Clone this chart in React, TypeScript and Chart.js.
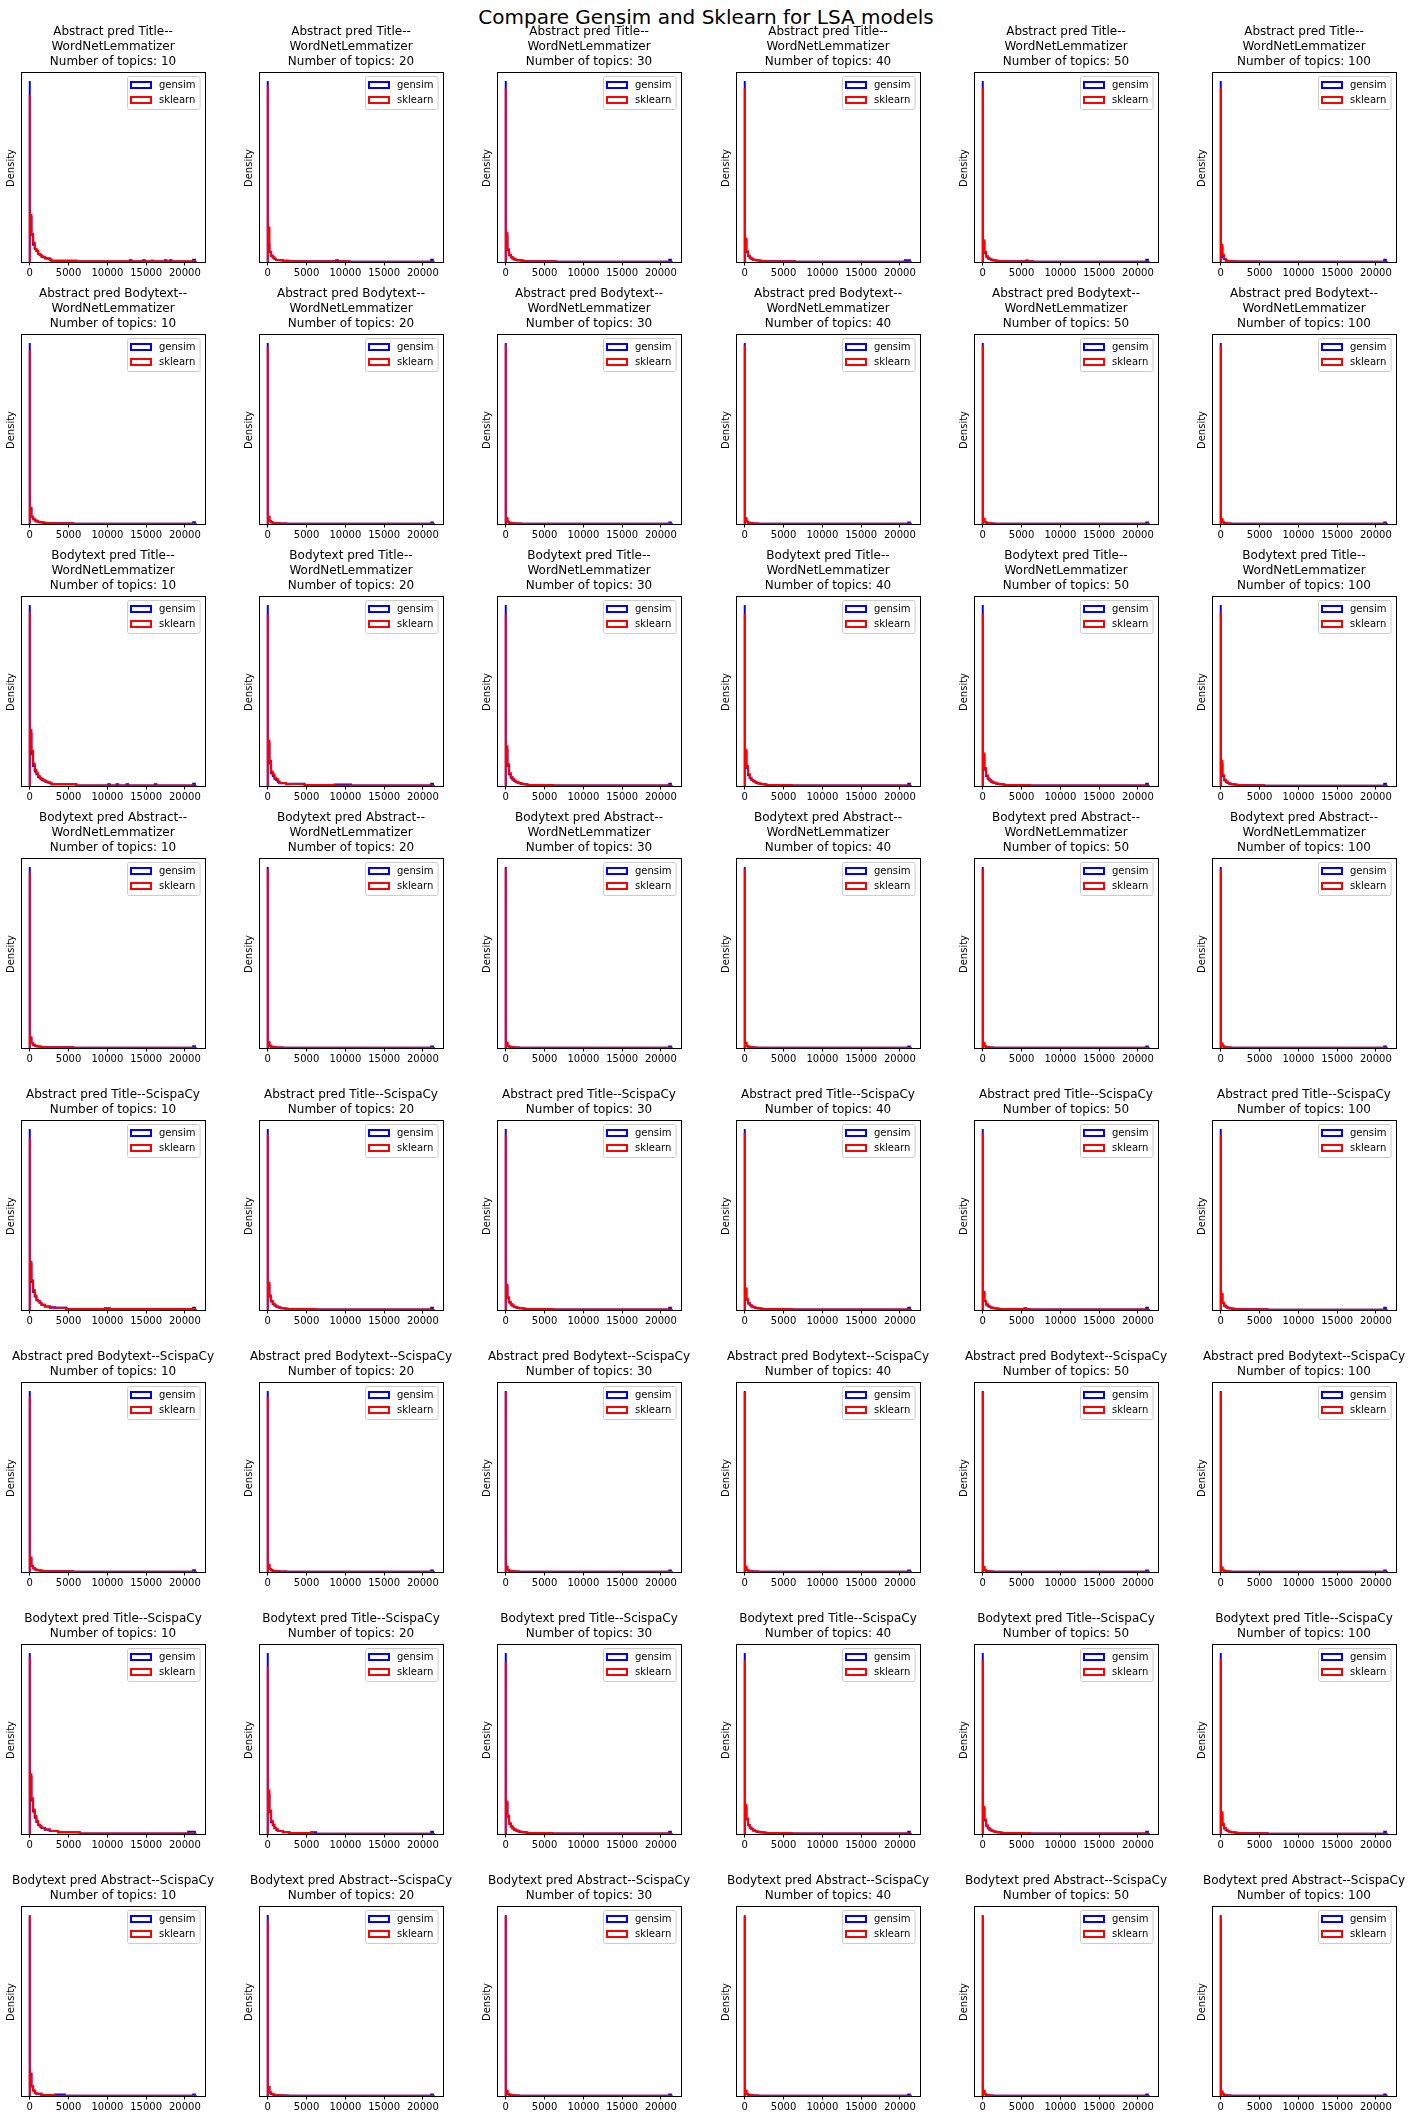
import React, { useEffect, useRef } from 'react';
import { Chart, registerables } from 'chart.js';

Chart.register(...registerables);

// ---------------- data ----------------
const SUPTITLE = 'Compare Gensim and Sklearn for LSA models';
const ROW_TITLES: string[][] = [
  ['Abstract pred Title--', 'WordNetLemmatizer'],
  ['Abstract pred Bodytext--', 'WordNetLemmatizer'],
  ['Bodytext pred Title--', 'WordNetLemmatizer'],
  ['Bodytext pred Abstract--', 'WordNetLemmatizer'],
  ['Abstract pred Title--ScispaCy'],
  ['Abstract pred Bodytext--ScispaCy'],
  ['Bodytext pred Title--ScispaCy'],
  ['Bodytext pred Abstract--ScispaCy'],
];
const TOPICS = [10, 20, 30, 40, 50, 100];
const SERIES_LABELS = ['gensim', 'sklearn'];
const SERIES_COLORS = ['#0000ff', '#ff0000'];
const X_TICKS = [0, 5000, 10000, 15000, 20000];
const BIN_RANGE = [0, 21500];
const BIN_COUNT = 100;
const Y_LABEL = 'Density';

// First 14 bins of every histogram (relative density, % of the panel peak), one entry per topic count.
const GENSIM_HEAD_R1 = [
  [100, 25, 15, 9.5, 7.2, 6, 4.5, 4, 3, 2.8, 2.2, 2, 1.9, 1.4],
  [100, 10, 5.5, 3.5, 2.5, 1.7, 1.1, 1.1, 1, 1, 0.7, 0.7, 0.7, 0.6],
  [100, 14, 6.5, 3.8, 2.6, 1.9, 1.4, 1.1, 1, 0.9, 0.8, 0.7, 0.6, 0.5],
  [100, 12, 5.5, 3.3, 2.3, 1.7, 1.3, 1.1, 0.9, 0.8, 0.7, 0.6, 0.5, 0.5],
  [100, 11, 5, 3, 2, 1.5, 1.2, 1, 0.8, 0.7, 0.6, 0.5, 0.5, 0.4],
  [100, 8, 2.5, 1.5, 0.8, 0.6, 0.5, 0.4, 0.4, 0.3, 0.3, 0.3, 0.3, 0.3],
];
const SKLEARN_HEAD_R1 = [
  [92.5, 26, 15.5, 10.8, 7.3, 6.2, 4.4, 3.9, 2.9, 2.9, 2, 2, 2, 1.3],
  [97.5, 19, 5.7, 3.5, 2.5, 1.7, 1.1, 1.1, 1.1, 1.1, 0.7, 0.7, 0.7, 0.7],
  [96, 16, 7, 4, 2.8, 2, 1.5, 1.2, 1, 0.9, 0.8, 0.7, 0.6, 0.5],
  [96, 13, 6, 3.5, 2.4, 1.8, 1.3, 1.1, 0.9, 0.8, 0.7, 0.6, 0.5, 0.5],
  [96, 12, 5.5, 3.2, 2.2, 1.6, 1.2, 1, 0.8, 0.7, 0.6, 0.5, 0.5, 0.4],
  [96, 9.4, 4, 1.7, 0.8, 0.6, 0.5, 0.4, 0.4, 0.3, 0.3, 0.3, 0.3, 0.3],
];
const GENSIM_HEAD_R2 = [
  [100, 8.5, 3.8, 2.6, 1.9, 1.4, 1.1, 0.9, 0.8, 0.7, 0.6, 0.6, 0.5, 0.5],
  [100, 3.8, 1.5, 0.9, 0.6, 0.5, 0.4, 0.4, 0.3, 0.3, 0.3, 0.3, 0.2, 0.2],
  [100, 3.0, 1.2, 0.7, 0.5, 0.4, 0.3, 0.3, 0.3, 0.3, 0.2, 0.2, 0.2, 0.2],
  [100, 3.0, 1.2, 0.7, 0.5, 0.4, 0.3, 0.3, 0.3, 0.2, 0.2, 0.2, 0.2, 0.2],
  [100, 2.8, 1.1, 0.7, 0.5, 0.4, 0.3, 0.3, 0.2, 0.2, 0.2, 0.2, 0.2, 0.2],
  [100, 2.5, 1.0, 0.6, 0.4, 0.3, 0.3, 0.2, 0.2, 0.2, 0.2, 0.2, 0.2, 0.2],
];
const SKLEARN_HEAD_R2 = [
  [96, 9, 4, 2.8, 2, 1.5, 1.2, 1, 0.9, 0.8, 0.7, 0.6, 0.5, 0.5],
  [98, 4, 1.6, 0.9, 0.6, 0.5, 0.4, 0.4, 0.3, 0.3, 0.3, 0.3, 0.2, 0.2],
  [99, 3.2, 1.3, 0.7, 0.5, 0.4, 0.3, 0.3, 0.3, 0.3, 0.2, 0.2, 0.2, 0.2],
  [99, 3.1, 1.2, 0.7, 0.5, 0.4, 0.3, 0.3, 0.3, 0.2, 0.2, 0.2, 0.2, 0.2],
  [99, 2.9, 1.1, 0.7, 0.5, 0.4, 0.3, 0.3, 0.2, 0.2, 0.2, 0.2, 0.2, 0.2],
  [99, 2.6, 1.0, 0.6, 0.4, 0.3, 0.3, 0.2, 0.2, 0.2, 0.2, 0.2, 0.2, 0.2],
];
const GENSIM_HEAD_R3 = [
  [100, 29, 17.5, 11, 8, 6.5, 5, 4.2, 3.5, 3, 2.5, 2.2, 1.9, 1.7],
  [100, 23.5, 12.5, 7, 5.5, 4, 3.3, 2.2, 1.5, 1.5, 1.5, 1.5, 1, 1],
  [100, 20, 11, 6.5, 4.6, 3.5, 2.7, 2.2, 1.8, 1.5, 1.3, 1.1, 1, 0.9],
  [100, 19, 10, 6, 4.3, 3.3, 2.6, 2.1, 1.7, 1.4, 1.2, 1, 0.9, 0.8],
  [100, 17, 9, 5.5, 4, 3, 2.4, 1.9, 1.6, 1.3, 1.1, 1, 0.9, 0.8],
  [100, 12, 5.5, 3.2, 2.3, 1.7, 1.3, 1, 0.9, 0.8, 0.7, 0.6, 0.5, 0.5],
];
const SKLEARN_HEAD_R3 = [
  [96, 31, 19.5, 12.5, 9, 7, 5.5, 4.5, 3.8, 3.2, 2.8, 2.4, 2, 1.8],
  [95, 25, 14, 8, 6.5, 4.6, 3.8, 2.6, 1.7, 1.7, 1.7, 1.7, 1.1, 1.1],
  [95, 22, 12, 7, 5, 3.8, 3, 2.4, 2, 1.7, 1.4, 1.2, 1, 0.9],
  [95, 20, 11, 6.5, 4.5, 3.5, 2.8, 2.2, 1.8, 1.5, 1.3, 1.1, 1, 0.9],
  [95, 18, 10, 6, 4.2, 3.2, 2.5, 2, 1.7, 1.4, 1.2, 1, 0.9, 0.8],
  [96, 14, 6, 3.5, 2.5, 1.8, 1.4, 1.1, 0.9, 0.8, 0.7, 0.6, 0.5, 0.5],
];
const GENSIM_HEAD_R4 = [
  [100, 5.5, 2.6, 1.7, 1.2, 1, 0.8, 0.7, 0.6, 0.5, 0.5, 0.4, 0.4, 0.4],
  [100, 3.0, 1.2, 0.7, 0.5, 0.4, 0.3, 0.3, 0.3, 0.3, 0.2, 0.2, 0.2, 0.2],
  [100, 2.8, 1.1, 0.7, 0.5, 0.4, 0.3, 0.3, 0.3, 0.2, 0.2, 0.2, 0.2, 0.2],
  [100, 2.8, 1.1, 0.7, 0.5, 0.4, 0.3, 0.3, 0.2, 0.2, 0.2, 0.2, 0.2, 0.2],
  [100, 2.6, 1.0, 0.6, 0.4, 0.3, 0.3, 0.2, 0.2, 0.2, 0.2, 0.2, 0.2, 0.2],
  [100, 2.4, 1.0, 0.6, 0.4, 0.3, 0.3, 0.2, 0.2, 0.2, 0.2, 0.2, 0.2, 0.2],
];
const SKLEARN_HEAD_R4 = [
  [97, 6, 2.8, 1.8, 1.3, 1, 0.8, 0.7, 0.6, 0.5, 0.5, 0.4, 0.4, 0.4],
  [99, 3.2, 1.3, 0.7, 0.5, 0.4, 0.3, 0.3, 0.3, 0.3, 0.2, 0.2, 0.2, 0.2],
  [99, 3.0, 1.2, 0.7, 0.5, 0.4, 0.3, 0.3, 0.3, 0.2, 0.2, 0.2, 0.2, 0.2],
  [99, 2.9, 1.1, 0.7, 0.5, 0.4, 0.3, 0.3, 0.2, 0.2, 0.2, 0.2, 0.2, 0.2],
  [99, 2.7, 1.0, 0.6, 0.4, 0.3, 0.3, 0.2, 0.2, 0.2, 0.2, 0.2, 0.2, 0.2],
  [99, 2.5, 1.0, 0.6, 0.4, 0.3, 0.3, 0.2, 0.2, 0.2, 0.2, 0.2, 0.2, 0.2],
];
const GENSIM_HEAD_R5 = [
  [100, 25.5, 15.5, 10, 7.5, 5.5, 4.8, 3.8, 2.9, 2.9, 2, 2, 2, 1.3],
  [100, 14, 7.5, 4.7, 3.3, 2.5, 1.9, 1.5, 1.2, 1, 0.9, 0.8, 0.7, 0.6],
  [100, 13, 6.6, 4.2, 3, 2.3, 1.7, 1.4, 1.1, 1, 0.9, 0.8, 0.7, 0.6],
  [100, 11.5, 5.7, 3.6, 2.6, 1.9, 1.5, 1.2, 1, 0.9, 0.8, 0.7, 0.6, 0.5],
  [100, 9.5, 4.8, 3, 2.2, 1.6, 1.3, 1, 0.9, 0.8, 0.7, 0.6, 0.5, 0.5],
  [100, 8.5, 3.8, 2.4, 1.7, 1.2, 1, 0.8, 0.7, 0.6, 0.5, 0.5, 0.4, 0.4],
];
const SKLEARN_HEAD_R5 = [
  [95, 26.5, 16.4, 11, 8, 5.7, 5, 3.9, 2.9, 2.9, 2, 2, 2, 1.3],
  [97, 15, 8, 5, 3.5, 2.6, 2, 1.6, 1.3, 1.1, 0.9, 0.8, 0.7, 0.6],
  [97, 14, 7, 4.5, 3.2, 2.4, 1.8, 1.5, 1.2, 1, 0.9, 0.8, 0.7, 0.6],
  [98, 12, 6, 3.8, 2.7, 2, 1.6, 1.3, 1.1, 0.9, 0.8, 0.7, 0.6, 0.5],
  [98, 10, 5, 3.2, 2.3, 1.7, 1.4, 1.1, 0.9, 0.8, 0.7, 0.6, 0.5, 0.5],
  [97, 9, 4, 2.5, 1.8, 1.3, 1, 0.8, 0.7, 0.6, 0.5, 0.5, 0.4, 0.4],
];
const GENSIM_HEAD_R6 = [
  [100, 7.5, 3.3, 2.1, 1.4, 1.1, 0.9, 0.8, 0.7, 0.6, 0.5, 0.5, 0.4, 0.4],
  [100, 3.7, 1.5, 0.9, 0.6, 0.5, 0.4, 0.4, 0.3, 0.3, 0.3, 0.3, 0.2, 0.2],
  [100, 2.8, 1.1, 0.7, 0.5, 0.4, 0.3, 0.3, 0.3, 0.2, 0.2, 0.2, 0.2, 0.2],
  [100, 2.8, 1.1, 0.7, 0.5, 0.4, 0.3, 0.3, 0.3, 0.2, 0.2, 0.2, 0.2, 0.2],
  [100, 2.6, 1.0, 0.6, 0.4, 0.3, 0.3, 0.2, 0.2, 0.2, 0.2, 0.2, 0.2, 0.2],
  [100, 2.4, 1.0, 0.6, 0.4, 0.3, 0.3, 0.2, 0.2, 0.2, 0.2, 0.2, 0.2, 0.2],
];
const SKLEARN_HEAD_R6 = [
  [97, 8, 3.5, 2.2, 1.5, 1.1, 0.9, 0.8, 0.7, 0.6, 0.5, 0.5, 0.4, 0.4],
  [97, 4, 1.6, 1, 0.7, 0.5, 0.4, 0.4, 0.3, 0.3, 0.3, 0.3, 0.2, 0.2],
  [99.5, 3, 1.2, 0.7, 0.5, 0.4, 0.3, 0.3, 0.3, 0.2, 0.2, 0.2, 0.2, 0.2],
  [99.5, 3, 1.2, 0.7, 0.5, 0.4, 0.3, 0.3, 0.3, 0.2, 0.2, 0.2, 0.2, 0.2],
  [99.5, 2.7, 1.1, 0.6, 0.4, 0.3, 0.3, 0.2, 0.2, 0.2, 0.2, 0.2, 0.2, 0.2],
  [99.5, 2.5, 1.0, 0.6, 0.4, 0.3, 0.3, 0.2, 0.2, 0.2, 0.2, 0.2, 0.2, 0.2],
];
const GENSIM_HEAD_R7 = [
  [100, 31.5, 18.5, 12.5, 9, 6.6, 5, 4.2, 3.3, 3.3, 2.4, 2.4, 2.4, 1.6],
  [100, 22, 12, 6.5, 4.8, 3.2, 2.4, 1.6, 1.6, 1.6, 1, 1, 1, 1],
  [100, 17, 9.5, 5.7, 4.1, 3, 2.4, 1.9, 1.5, 1.3, 1.1, 1, 0.9, 0.8],
  [100, 15, 8, 4.8, 3.4, 2.6, 2, 1.6, 1.3, 1.1, 1, 0.9, 0.8, 0.7],
  [100, 14, 7.5, 4.5, 3.2, 2.4, 1.9, 1.5, 1.2, 1, 0.9, 0.8, 0.7, 0.6],
  [100, 11, 5, 3.1, 2.2, 1.6, 1.2, 1, 0.9, 0.8, 0.7, 0.6, 0.5, 0.5],
];
const SKLEARN_HEAD_R7 = [
  [98, 33, 19.7, 13.6, 10, 7.2, 5.3, 4.4, 3.5, 3.5, 2.6, 2.6, 2.6, 1.7],
  [92.5, 24, 13, 7.2, 5.3, 3.5, 2.6, 1.7, 1.7, 1.7, 1.1, 1.1, 1.1, 1.1],
  [95, 18, 10, 6, 4.3, 3.2, 2.5, 2, 1.6, 1.4, 1.2, 1, 0.9, 0.8],
  [96, 16, 8.5, 5, 3.6, 2.7, 2.1, 1.7, 1.4, 1.2, 1, 0.9, 0.8, 0.7],
  [96, 15, 8, 4.7, 3.4, 2.5, 2, 1.6, 1.3, 1.1, 0.9, 0.8, 0.7, 0.6],
  [97, 12, 5.5, 3.3, 2.3, 1.7, 1.3, 1.1, 0.9, 0.8, 0.7, 0.6, 0.5, 0.5],
];
const GENSIM_HEAD_R8 = [
  [99.5, 12, 5.3, 3, 1.7, 1.3, 1.3, 1.3, 0.6, 0.6, 0.6, 0.6, 0.6, 0.6],
  [100, 4.8, 1.9, 1.1, 0.8, 0.6, 0.5, 0.4, 0.4, 0.3, 0.3, 0.3, 0.3, 0.2],
  [99.5, 2.8, 1.1, 0.7, 0.5, 0.4, 0.3, 0.3, 0.3, 0.2, 0.2, 0.2, 0.2, 0.2],
  [99.5, 2.8, 1.1, 0.7, 0.5, 0.4, 0.3, 0.3, 0.3, 0.2, 0.2, 0.2, 0.2, 0.2],
  [99.5, 2.6, 1.0, 0.6, 0.4, 0.3, 0.3, 0.2, 0.2, 0.2, 0.2, 0.2, 0.2, 0.2],
  [99.5, 2.4, 1.0, 0.6, 0.4, 0.3, 0.3, 0.2, 0.2, 0.2, 0.2, 0.2, 0.2, 0.2],
];
const SKLEARN_HEAD_R8 = [
  [100, 12.5, 5.5, 3.1, 1.8, 1.3, 1.3, 1.3, 0.6, 0.6, 0.6, 0.6, 0.6, 0.6],
  [97, 5, 2, 1.2, 0.8, 0.6, 0.5, 0.4, 0.4, 0.3, 0.3, 0.3, 0.3, 0.2],
  [100, 3, 1.2, 0.7, 0.5, 0.4, 0.3, 0.3, 0.3, 0.2, 0.2, 0.2, 0.2, 0.2],
  [100, 3, 1.2, 0.7, 0.5, 0.4, 0.3, 0.3, 0.3, 0.2, 0.2, 0.2, 0.2, 0.2],
  [100, 2.7, 1.1, 0.6, 0.4, 0.3, 0.3, 0.2, 0.2, 0.2, 0.2, 0.2, 0.2, 0.2],
  [100, 2.5, 1.0, 0.6, 0.4, 0.3, 0.3, 0.2, 0.2, 0.2, 0.2, 0.2, 0.2, 0.2],
];

// Remaining bins (index 14..99): runs of [fromBin, toBin, value]; later runs override earlier ones.
const GENSIM_TAIL_R1 = [
  [[14, 28, 0.7], [29, 98, 0.3], [61, 61, 0.9], [69, 69, 0.9], [82, 82, 0.9], [85, 85, 0.9], [99, 99, 1.2]],
  [[14, 49, 0.35], [50, 98, 0.15], [42, 42, 0.9], [99, 99, 1.2]],
  [[14, 30, 0.4], [31, 98, 0.2], [99, 99, 1.2]],
  [[14, 30, 0.4], [31, 96, 0.2], [97, 99, 1.0]],
  [[14, 30, 0.4], [31, 98, 0.2], [27, 27, 0.8], [99, 99, 1.2]],
  [[14, 23, 0.3], [24, 98, 0.15], [99, 99, 1.2]],
];
const SKLEARN_TAIL_R1 = [
  [[14, 28, 0.7], [29, 99, 0.35], [74, 74, 0.8]],
  [[14, 49, 0.35], [50, 99, 0.15]],
  [[14, 30, 0.4], [31, 99, 0.2]],
  [[14, 30, 0.4], [31, 99, 0.2]],
  [[14, 30, 0.4], [31, 99, 0.2]],
  [[14, 23, 0.3], [24, 99, 0.15]],
];
const GENSIM_TAIL_R2 = [
  [[14, 26, 0.4], [27, 98, 0.2], [99, 99, 1.0]],
  [[14, 30, 0.2], [31, 98, 0.15], [99, 99, 0.8]],
  [[14, 30, 0.2], [31, 98, 0.15], [99, 99, 0.8]],
  [[14, 30, 0.2], [31, 98, 0.15], [99, 99, 0.8]],
  [[14, 30, 0.2], [31, 98, 0.15], [99, 99, 0.8]],
  [[14, 30, 0.2], [31, 98, 0.15], [99, 99, 0.8]],
];
const SKLEARN_TAIL_R2 = [
  [[14, 26, 0.4], [27, 99, 0.2]],
  [[14, 30, 0.2], [31, 99, 0.15]],
  [[14, 30, 0.2], [31, 99, 0.15]],
  [[14, 30, 0.2], [31, 99, 0.15]],
  [[14, 30, 0.2], [31, 99, 0.15]],
  [[14, 30, 0.2], [31, 99, 0.15]],
];
const GENSIM_TAIL_R3 = [
  [[14, 28, 1.0], [29, 98, 0.3], [48, 48, 1.0], [53, 53, 1.0], [59, 59, 1.0], [76, 76, 1.0], [99, 99, 1.2]],
  [[14, 22, 1.2], [23, 40, 0.6], [41, 50, 0.8], [51, 98, 0.3], [99, 99, 1.2]],
  [[14, 28, 0.6], [29, 98, 0.25], [99, 99, 1.2]],
  [[14, 28, 0.6], [29, 98, 0.25], [99, 99, 1.2]],
  [[14, 28, 0.5], [29, 98, 0.25], [99, 99, 1.2]],
  [[14, 26, 0.4], [27, 98, 0.2], [99, 99, 1.2]],
];
const SKLEARN_TAIL_R3 = [
  [[14, 28, 1.0], [29, 99, 0.3]],
  [[14, 22, 1.1], [23, 40, 0.6], [41, 99, 0.3]],
  [[14, 28, 0.6], [29, 99, 0.25]],
  [[14, 28, 0.6], [29, 99, 0.25]],
  [[14, 28, 0.5], [29, 99, 0.25]],
  [[14, 26, 0.4], [27, 99, 0.2]],
];
const GENSIM_TAIL_R4 = [
  [[14, 26, 0.4], [27, 98, 0.2], [99, 99, 1.0]],
  [[14, 30, 0.2], [31, 98, 0.15], [99, 99, 0.8]],
  [[14, 30, 0.2], [31, 98, 0.15], [99, 99, 0.8]],
  [[14, 30, 0.2], [31, 98, 0.15], [99, 99, 0.8]],
  [[14, 30, 0.2], [31, 98, 0.15], [99, 99, 0.8]],
  [[14, 30, 0.2], [31, 98, 0.15], [99, 99, 0.8]],
];
const SKLEARN_TAIL_R4 = [
  [[14, 26, 0.4], [27, 99, 0.2]],
  [[14, 30, 0.2], [31, 99, 0.15]],
  [[14, 30, 0.2], [31, 99, 0.15]],
  [[14, 30, 0.2], [31, 99, 0.15]],
  [[14, 30, 0.2], [31, 99, 0.15]],
  [[14, 30, 0.2], [31, 99, 0.15]],
];
const GENSIM_TAIL_R5 = [
  [[14, 15, 1.5], [16, 22, 1.3], [23, 45, 0.5], [46, 48, 0.9], [49, 98, 0.4], [99, 99, 1.2]],
  [[14, 28, 0.5], [29, 98, 0.25], [99, 99, 1.2]],
  [[14, 28, 0.5], [29, 98, 0.25], [99, 99, 1.2]],
  [[14, 28, 0.5], [29, 98, 0.25], [99, 99, 1.2]],
  [[14, 28, 0.5], [29, 98, 0.25], [26, 26, 0.9], [99, 99, 1.2]],
  [[14, 28, 0.4], [29, 98, 0.2], [99, 99, 1.2]],
];
const SKLEARN_TAIL_R5 = [
  [[14, 22, 1.3], [23, 99, 0.5]],
  [[14, 28, 0.5], [29, 99, 0.25]],
  [[14, 28, 0.5], [29, 99, 0.25]],
  [[14, 28, 0.5], [29, 99, 0.25]],
  [[14, 28, 0.5], [29, 99, 0.25]],
  [[14, 28, 0.4], [29, 99, 0.2]],
];
const GENSIM_TAIL_R6 = [
  [[14, 26, 0.4], [27, 98, 0.2], [99, 99, 1.0]],
  [[14, 30, 0.2], [31, 98, 0.15], [99, 99, 0.8]],
  [[14, 30, 0.2], [31, 98, 0.15], [99, 99, 0.8]],
  [[14, 30, 0.2], [31, 98, 0.15], [99, 99, 0.8]],
  [[14, 30, 0.2], [31, 98, 0.15], [99, 99, 0.8]],
  [[14, 30, 0.2], [31, 98, 0.15], [99, 99, 0.8]],
];
const SKLEARN_TAIL_R6 = [
  [[14, 26, 0.4], [27, 99, 0.2]],
  [[14, 30, 0.2], [31, 99, 0.15]],
  [[14, 30, 0.2], [31, 99, 0.15]],
  [[14, 30, 0.2], [31, 99, 0.15]],
  [[14, 30, 0.2], [31, 99, 0.15]],
  [[14, 30, 0.2], [31, 99, 0.15]],
];
const GENSIM_TAIL_R7 = [
  [[14, 17, 1.6], [18, 30, 0.9], [31, 95, 0.3], [96, 99, 1.2]],
  [[14, 26, 0.6], [27, 29, 1.0], [30, 98, 0.2], [99, 99, 1.2]],
  [[14, 28, 0.5], [29, 98, 0.25], [99, 99, 1.2]],
  [[14, 28, 0.5], [29, 98, 0.25], [99, 99, 1.2]],
  [[14, 28, 0.5], [29, 98, 0.25], [99, 99, 1.2]],
  [[14, 28, 0.4], [29, 98, 0.2], [99, 99, 1.2]],
];
const SKLEARN_TAIL_R7 = [
  [[14, 17, 1.7], [18, 30, 0.9], [31, 99, 0.3]],
  [[14, 27, 0.6], [28, 99, 0.2]],
  [[14, 28, 0.5], [29, 99, 0.25]],
  [[14, 28, 0.5], [29, 99, 0.25]],
  [[14, 28, 0.5], [29, 99, 0.25]],
  [[14, 28, 0.4], [29, 99, 0.2]],
];
const GENSIM_TAIL_R8 = [
  [[14, 15, 0.55], [16, 21, 0.8], [22, 98, 0.2], [99, 99, 0.8]],
  [[14, 30, 0.2], [31, 98, 0.15], [99, 99, 0.8]],
  [[14, 30, 0.2], [31, 98, 0.15], [99, 99, 0.8]],
  [[14, 30, 0.2], [31, 98, 0.15], [99, 99, 0.8]],
  [[14, 30, 0.2], [31, 98, 0.15], [99, 99, 0.8]],
  [[14, 30, 0.2], [31, 98, 0.15], [99, 99, 0.8]],
];
const SKLEARN_TAIL_R8 = [
  [[14, 15, 0.55], [16, 99, 0.2]],
  [[14, 30, 0.2], [31, 99, 0.15]],
  [[14, 30, 0.2], [31, 99, 0.15]],
  [[14, 30, 0.2], [31, 99, 0.15]],
  [[14, 30, 0.2], [31, 99, 0.15]],
  [[14, 30, 0.2], [31, 99, 0.15]],
];

const GENSIM_HEADS = [GENSIM_HEAD_R1, GENSIM_HEAD_R2, GENSIM_HEAD_R3, GENSIM_HEAD_R4, GENSIM_HEAD_R5, GENSIM_HEAD_R6, GENSIM_HEAD_R7, GENSIM_HEAD_R8];
const SKLEARN_HEADS = [SKLEARN_HEAD_R1, SKLEARN_HEAD_R2, SKLEARN_HEAD_R3, SKLEARN_HEAD_R4, SKLEARN_HEAD_R5, SKLEARN_HEAD_R6, SKLEARN_HEAD_R7, SKLEARN_HEAD_R8];
const GENSIM_TAILS = [GENSIM_TAIL_R1, GENSIM_TAIL_R2, GENSIM_TAIL_R3, GENSIM_TAIL_R4, GENSIM_TAIL_R5, GENSIM_TAIL_R6, GENSIM_TAIL_R7, GENSIM_TAIL_R8];
const SKLEARN_TAILS = [SKLEARN_TAIL_R1, SKLEARN_TAIL_R2, SKLEARN_TAIL_R3, SKLEARN_TAIL_R4, SKLEARN_TAIL_R5, SKLEARN_TAIL_R6, SKLEARN_TAIL_R7, SKLEARN_TAIL_R8];

// ---------------- layout / style ----------------
const PAGE_W = 1412;
const PAGE_H = 2120;
const COL_STEP = 238.2;
const ROW_STEP = 262;
const CANVAS_W = 238;
const CANVAS_H = 300;
const PLOT_LEFT = 21;
const PLOT_TOP = 72;
const PLOT_W = 184;
const PLOT_H = 190;
const X_AXIS_H = 30;
const X_MIN = -1130;
const X_MAX = 22590;
const FONT = '"DejaVu Sans", "Liberation Sans", sans-serif';

function expandBins(head: number[], tail: number[][]): number[] {
  const out: number[] = new Array(BIN_COUNT).fill(0);
  head.forEach((v, i) => { out[i] = v; });
  tail.forEach(([a, b, v]) => { for (let i = a; i <= b; i++) out[i] = v; });
  return out;
}

function stepPoints(values: number[]) {
  const w = (BIN_RANGE[1] - BIN_RANGE[0]) / BIN_COUNT;
  const pts = [{ x: BIN_RANGE[0], y: 0 }];
  values.forEach((v, i) => pts.push({ x: BIN_RANGE[0] + i * w, y: v }));
  pts.push({ x: BIN_RANGE[1], y: 0 });
  return pts;
}

function makeDecor(row: number, col: number) {
  return {
    id: 'panelDecor' + row + '_' + col,
    afterDraw(chart: any) {
      const { ctx, chartArea } = chart;
      const { left, right, top, bottom } = chartArea;
      ctx.save();
      // frame
      ctx.strokeStyle = '#000';
      ctx.lineWidth = 1;
      ctx.strokeRect(left + 0.5, top + 0.5, right - left, bottom - top);
      // title
      const lines = [...ROW_TITLES[row], 'Number of topics: ' + TOPICS[col]];
      ctx.fillStyle = '#000';
      ctx.font = '12px ' + FONT;
      ctx.textAlign = 'center';
      ctx.textBaseline = 'alphabetic';
      const cx = (left + right) / 2;
      lines.forEach((ln, i) => {
        ctx.fillText(ln, cx, top - 6.6 - 15 * (lines.length - 1 - i));
      });
      // y label
      ctx.save();
      ctx.translate(left - 9.7, (top + bottom) / 2 + 1);
      ctx.rotate(-Math.PI / 2);
      ctx.font = '10px ' + FONT;
      ctx.textAlign = 'center';
      ctx.textBaseline = 'middle';
      ctx.fillText(Y_LABEL, 0, 0);
      ctx.restore();
      // legend
      ctx.font = '10px ' + FONT;
      const tw = Math.max(...SERIES_LABELS.map((s) => ctx.measureText(s).width));
      const fw = 4 + 20 + 8 + tw + 4;
      const fx = Math.round(right - 5 - fw) + 0.5;
      const fy = top + 4.5;
      ctx.beginPath();
      if (ctx.roundRect) ctx.roundRect(fx, fy, fw, 33, 2); else ctx.rect(fx, fy, fw, 33);
      ctx.fillStyle = 'rgba(255,255,255,0.8)';
      ctx.fill();
      ctx.strokeStyle = '#cccccc';
      ctx.lineWidth = 1;
      ctx.stroke();
      SERIES_LABELS.forEach((lab, i) => {
        const cy = fy + 8.8 + i * 14.7;
        ctx.strokeStyle = SERIES_COLORS[i];
        ctx.lineWidth = 2;
        ctx.strokeRect(Math.round(fx + 3.5), Math.round(cy) - 3, 20, 6);
        ctx.fillStyle = '#000';
        ctx.textAlign = 'left';
        ctx.textBaseline = 'middle';
        ctx.fillText(lab, fx + 31.5, cy);
      });
      ctx.restore();
    },
  };
}

function Panel({ row, col }: { row: number; col: number }) {
  const ref = useRef<HTMLCanvasElement>(null);
  useEffect(() => {
    const canvas = ref.current;
    if (!canvas) return;
    const g = expandBins(GENSIM_HEADS[row][col], GENSIM_TAILS[row][col]);
    const s = expandBins(SKLEARN_HEADS[row][col], SKLEARN_TAILS[row][col]);
    const peak = Math.max(...g, ...s);
    const chart = new Chart(canvas, {
      type: 'line',
      data: {
        datasets: [
          {
            label: SERIES_LABELS[0], data: stepPoints(g), borderColor: SERIES_COLORS[0], backgroundColor: SERIES_COLORS[0],
            borderWidth: 2, pointRadius: 0, stepped: 'after', fill: false, order: 1,
            borderJoinStyle: 'miter', borderCapStyle: 'butt',
          },
          {
            label: SERIES_LABELS[1], data: stepPoints(s), borderColor: SERIES_COLORS[1], backgroundColor: SERIES_COLORS[1],
            borderWidth: 2, pointRadius: 0, stepped: 'after', fill: false, order: 0,
            borderJoinStyle: 'miter', borderCapStyle: 'butt',
          },
        ],
      },
      options: {
        animation: false,
        responsive: false,
        maintainAspectRatio: false,
        devicePixelRatio: 1,
        events: [],
        layout: {
          padding: {
            left: PLOT_LEFT,
            top: PLOT_TOP,
            right: CANVAS_W - PLOT_LEFT - PLOT_W,
            bottom: CANVAS_H - PLOT_TOP - PLOT_H - X_AXIS_H,
          },
        },
        plugins: { legend: { display: false }, title: { display: false }, tooltip: { enabled: false } },
        scales: {
          x: {
            type: 'linear',
            position: 'bottom',
            min: X_MIN,
            max: X_MAX,
            afterBuildTicks: (axis: any) => { axis.ticks = X_TICKS.map((v) => ({ value: v })); },
            afterFit: (axis: any) => { axis.height = X_AXIS_H; },
            ticks: {
              autoSkip: false, maxRotation: 0, minRotation: 0, padding: 2, color: '#000',
              font: { size: 10, family: FONT },
              callback: (v: any) => String(v),
            },
            grid: { display: true, drawOnChartArea: false, drawTicks: true, tickLength: 3.5, color: '#000', lineWidth: 1 },
            border: { display: false },
          },
          y: { display: false, min: 0, max: peak * 1.05 },
        },
      } as any,
      plugins: [makeDecor(row, col)],
    });
    return () => chart.destroy();
  }, [row, col]);
  return (
    <canvas
      ref={ref}
      width={CANVAS_W}
      height={CANVAS_H}
      style={{ position: 'absolute', left: Math.round(col * COL_STEP), top: row * ROW_STEP, width: CANVAS_W, height: CANVAS_H }}
    />
  );
}

export default function App() {
  const cells: React.ReactNode[] = [];
  ROW_TITLES.forEach((_, r) => TOPICS.forEach((__, c) => cells.push(<Panel key={r + '_' + c} row={r} col={c} />)));
  return (
    <div style={{ position: 'absolute', left: 0, top: 0, width: PAGE_W, height: PAGE_H, overflow: 'hidden', background: '#fff' }}>
      <div
        style={{
          position: 'absolute', left: 0, top: 5, width: PAGE_W, textAlign: 'center',
          fontFamily: FONT, fontSize: 20, lineHeight: '24px', color: '#000', whiteSpace: 'nowrap',
        }}
      >
        {SUPTITLE}
      </div>
      {cells}
    </div>
  );
}
